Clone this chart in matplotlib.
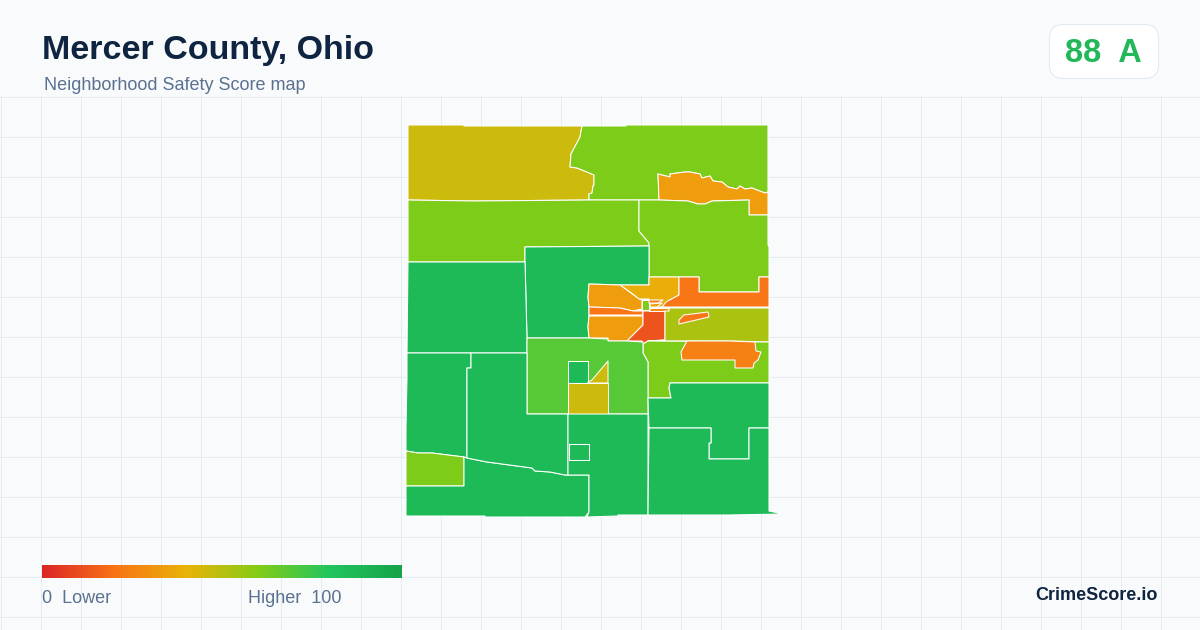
import numpy as np
import matplotlib
matplotlib.use("Agg")
import matplotlib.pyplot as plt
from matplotlib.colors import LinearSegmentedColormap
from matplotlib.patches import FancyBboxPatch, Polygon

plt.rcParams['font.family'] = ['Liberation Sans', 'DejaVu Sans']

# --- text ---
title = "Mercer County, Ohio"
subtitle = "Neighborhood Safety Score map"
county_score = 88
county_grade = "A"
low_label = "0  Lower"
high_label = "Higher  100"
brand = "CrimeScore.io"

# --- score colour ramp ---
ramp_stops = [0.0, 0.2, 0.4, 0.6, 0.8, 1.0]
ramp_colors = ["#dc2626", "#f97316", "#eab308", "#84cc16", "#22c55e", "#16a34a"]

ne_strip_top = [(658, 174), (670, 177), (670, 174), (685, 172), (690, 172), (700, 174), (702, 178),
                (710, 176), (713, 181), (722, 182), (728, 187), (737, 189), (740, 186), (745, 189),
                (752, 188), (757, 190), (765, 193), (768, 192)]
ne_strip_bottom = [(768, 215), (749, 215), (749, 200), (712, 201), (705, 204), (698, 204), (688, 201), (659, 200)]

nw_tract = [(408, 125), (464, 125), (464, 126), (582, 126), (580, 137), (571, 154), (570, 167), (577, 168),
            (587, 172), (594, 175), (594, 185), (593, 186), (592, 193), (589, 194), (589, 200), (474, 201),
            (408, 200)]
n_tract = [(582, 126), (626, 126), (626, 125), (768, 125)] + ne_strip_top[::-1] + \
    [(658, 174), (659, 200), (589, 200), (589, 194), (592, 193), (593, 186), (594, 185), (594, 175),
     (587, 172), (577, 168), (570, 167), (571, 154), (580, 137)]
ne_strip = ne_strip_top + ne_strip_bottom
w_band = [(408, 200), (474, 201), (589, 200), (639, 200), (639, 231), (649, 243), (649, 246), (525, 247),
          (525, 262), (408, 262)]
e_band = [(639, 200), (659, 200), (688, 201), (698, 204), (705, 204), (712, 201), (749, 200), (749, 215),
          (768, 215), (768, 245), (769, 247), (769, 277), (759, 277), (759, 292), (699, 292), (699, 277),
          (649, 277), (649, 243), (639, 231)]
center_north = [(525, 247), (649, 246), (649, 285), (620, 285), (589, 284), (588, 297), (589, 307), (589, 315),
                (588, 327), (589, 338), (527, 338), (525, 262)]
west_mid = [(408, 262), (525, 262), (527, 338), (527, 353), (407, 353)]
town_yellow = [(620, 285), (649, 285), (649, 277), (679, 277), (679, 295), (670, 300), (662, 307), (649, 307),
               (649, 299), (639, 299), (630, 292)]
town_nw = [(589, 284), (620, 285), (639, 299), (642, 300), (642, 309), (633, 311), (620, 308), (589, 307),
           (588, 297)]
town_strip = [(589, 307), (620, 308), (633, 311), (643, 311), (643, 315), (589, 315)]
town_sw = [(589, 316), (643, 316), (643, 325), (627, 341), (608, 341), (608, 338), (589, 338), (588, 327)]
town_core = [(643, 311), (665, 311), (665, 340), (648, 341), (643, 344), (642, 341), (627, 341), (643, 325)]
town_lime = [(642, 300), (649, 300), (649, 310), (642, 310)]
town_sliver_a = [(649, 300), (663, 300), (658, 303), (649, 303)]
town_sliver_b = [(650, 304), (662, 303), (657, 307), (650, 307)]
town_sliver_c = [(650, 308), (662, 308), (669, 308), (669, 311), (649, 311)]
east_arm = [(679, 277), (699, 277), (699, 292), (759, 292), (759, 277), (769, 277), (769, 307), (662, 307),
            (666, 302), (679, 295)]
east_olive = [(669, 308), (769, 308), (769, 342), (730, 341), (687, 341), (648, 341), (665, 340), (665, 311),
              (669, 311)]
east_sliver = [(679, 320), (684, 315), (708, 312), (709, 317), (679, 324)]
se_lime = [(643, 344), (648, 341), (769, 342), (769, 383), (670, 383), (669, 388), (671, 398), (648, 398),
           (648, 362), (643, 353)]
se_orange = [(687, 341), (730, 341), (755, 342), (756, 351), (761, 352), (758, 360), (754, 363), (753, 368),
             (735, 368), (735, 360), (682, 360), (681, 352)]
mid_block = [(527, 338), (588, 338), (608, 339), (608, 341), (627, 341), (643, 342), (643, 353), (648, 362),
             (648, 414), (527, 414)]
mid_square = [(568, 361), (588, 361), (588, 383), (568, 383)]
mid_olive = [(568, 383), (608, 383), (608, 414), (568, 414)]
mid_wedge = [(608, 361), (608, 383), (588, 383), (588, 382), (592, 380)]
sw_upper = [(407, 353), (471, 353), (471, 368), (467, 368), (467, 458), (464, 457), (432, 453), (418, 453),
            (406, 451), (406, 427), (407, 378)]
sw_lime = [(406, 451), (418, 453), (432, 453), (464, 457), (464, 486), (406, 486)]
sw_lower = [(406, 486), (464, 486), (464, 457), (467, 458), (487, 462), (532, 468), (535, 471), (550, 472),
            (565, 475), (589, 475), (589, 512), (585, 517), (485, 517), (485, 516), (406, 516)]
mid_south = [(471, 353), (527, 353), (527, 414), (568, 414), (568, 475), (565, 475), (550, 472), (535, 471),
             (532, 468), (487, 462), (467, 458), (467, 368), (471, 368)]
center_south = [(568, 414), (648, 414), (648, 515), (618, 515), (618, 516), (587, 517), (589, 512), (589, 475),
                (568, 475)]
center_box = [(569, 444), (589, 444), (589, 460), (569, 460)]
se_upper = [(648, 398), (671, 398), (669, 388), (670, 383), (769, 383), (769, 428), (749, 428), (749, 459),
            (709, 459), (709, 443), (711, 443), (711, 428), (649, 428)]
se_lower = [(649, 428), (711, 428), (711, 443), (709, 443), (709, 459), (749, 459), (749, 428), (769, 428),
            (769, 511), (783, 514), (728, 515), (648, 515)]

# drawn in this order, later ones sit on top
tracts = [nw_tract, n_tract, ne_strip, w_band, e_band, center_north, west_mid, town_yellow, town_nw, town_strip,
          town_sw, town_core, town_lime, town_sliver_a, town_sliver_b, town_sliver_c, east_arm, east_olive,
          east_sliver, se_lime, se_orange, mid_block, mid_square, mid_olive, mid_wedge, sw_upper, sw_lime,
          sw_lower, mid_south, center_south, center_box, se_upper, se_lower]
tract_scores = [46, 61, 33, 61, 61, 86, 86, 38, 33, 21, 33, 12, 61, 21, 33, 26, 21, 52,
                21, 61, 24, 69, 86, 46, 46, 86, 61,
                86, 86, 86, 86, 86, 86]

ramp = LinearSegmentedColormap.from_list("score", list(zip(ramp_stops, ramp_colors)))

fig = plt.figure(figsize=(12, 6.3), dpi=100, facecolor="#f8fafc")
ax = fig.add_axes([0, 0, 1, 1])
ax.set_xlim(0, 1200)
ax.set_ylim(630, 0)
ax.axis('off')

# background grid starts under the header
for gx in np.arange(0, 1200, 40):
    ax.plot([gx + 0.5, gx + 0.5], [96, 630], color="#e5ecf1", lw=0.72, zorder=1)
for gy in np.arange(96, 630, 40):
    ax.plot([0, 1200], [gy + 0.5, gy + 0.5], color="#e5ecf1", lw=0.72, zorder=1)

# map
for outline, score in zip(tracts, tract_scores):
    ax.add_patch(Polygon(outline, closed=True, facecolor=ramp(score / 100), edgecolor="white",
                         lw=0.75, joinstyle="round", zorder=2))

# header
ax.text(42, 50, title, fontsize=24.5, fontweight="bold", color="#0f2440", va="center", ha="left")
ax.text(44, 86, subtitle, fontsize=13, color="#5b7190", va="center", ha="left")

# score badge
ax.add_patch(FancyBboxPatch((1049.5, 24.5), 109, 54, boxstyle="round,pad=0,rounding_size=14",
                            facecolor="white", edgecolor="#e2e8f0", lw=0.72, zorder=3))
ax.text(1103.5, 53.5, f"{county_score}  {county_grade}", fontsize=23.5, fontweight="bold", color="#22b859",
        va="center", ha="center", zorder=4)

# legend ramp
ax.imshow(np.linspace(0, 1, 360).reshape(1, -1), cmap=ramp, extent=(42, 402, 578, 565), aspect="auto", zorder=3)
ax.set_xlim(0, 1200)
ax.set_ylim(630, 0)
ax.text(42, 598.5, low_label, fontsize=13, color="#5b7190", va="center", ha="left")
ax.text(342, 598.5, high_label, fontsize=13, color="#5b7190", va="center", ha="right")

ax.text(1158, 595, brand, fontsize=13, fontweight="bold", color="#0f2440", va="center", ha="right")

fig.savefig("out.png", dpi=100, facecolor=fig.get_facecolor())
